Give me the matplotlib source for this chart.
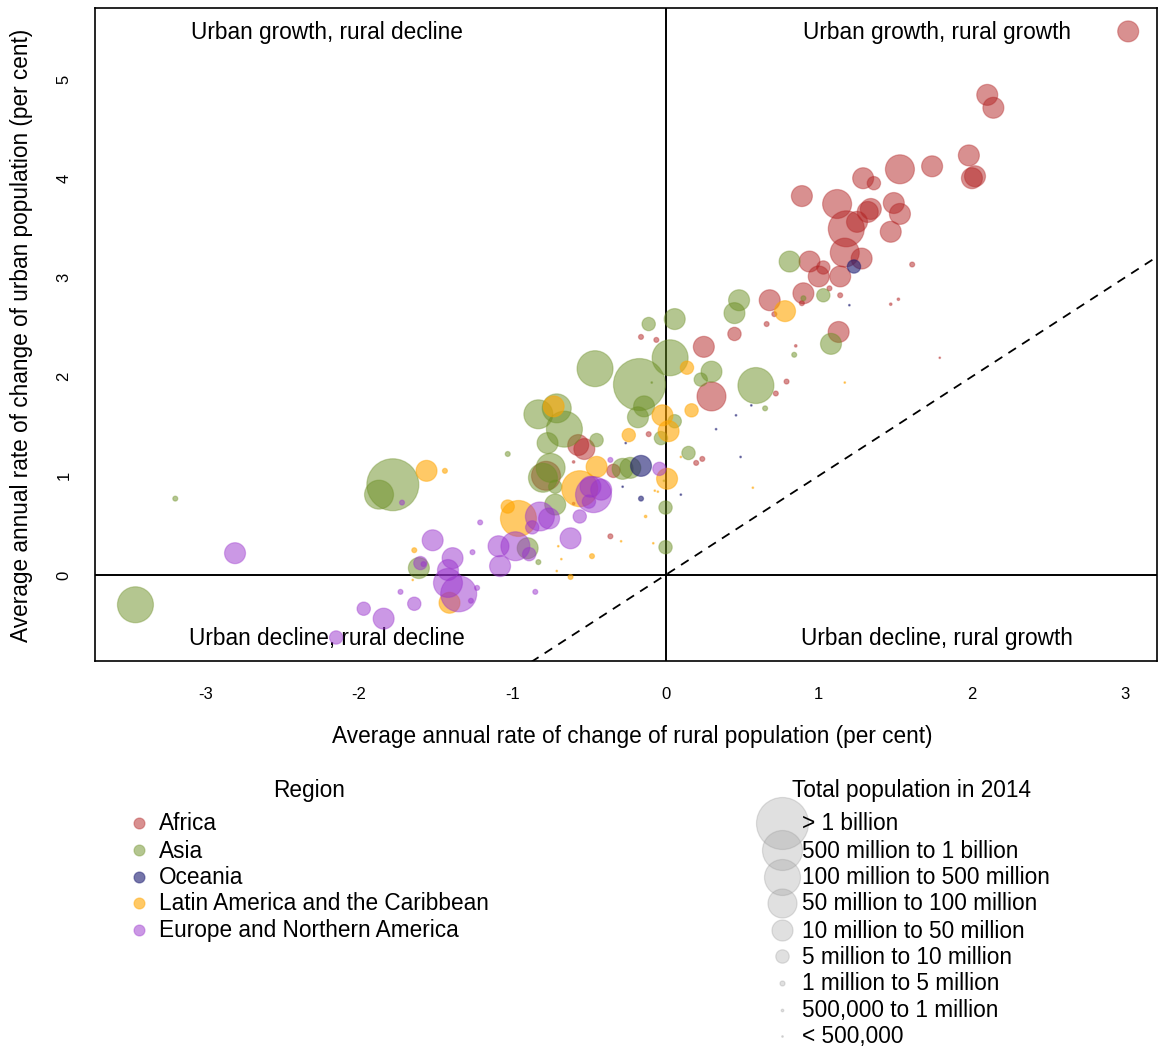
import matplotlib.pyplot as plt
import numpy as np

plt.rcParams["font.family"] = ["Liberation Sans", "DejaVu Sans"]
plt.rcParams["axes.unicode_minus"] = False

W, H, DPI = 1158, 1048, 100

REGIONS = ["Africa", "Asia", "Oceania", "Latin America and the Caribbean",
           "Europe and Northern America"]
REGION_COLORS = ["#B22222", "#6B8E23", "#191970", "#FFA500", "#9932CC"]
REGION_ALPHA = [0.5, 0.5, 0.6, 0.6, 0.5]

POP_LABELS = ["> 1 billion", "500 million to 1 billion", "100 million to 500 million",
              "50 million to 100 million", "10 million to 50 million",
              "5 million to 10 million", "1 million to 5 million",
              "500,000 to 1 million", "< 500,000"]
# marker radius (px) for each population class
POP_RADIUS = [26, 20, 18, 14.5, 10.5, 6.7, 2.5, 1.3, 0.8]

# rural change, urban change (per cent per year), population class index
AF_RURAL = [2.10, 2.14, 1.98, 2.00, 2.02, 1.74, 1.53, 1.29, 1.36, 0.89, 1.12, 1.18, 1.25,
            1.32, 1.34, 1.49, 1.53, 1.47, 1.17, 1.28, 0.94, 1.03, 1.00, 1.14, 0.90, 1.07,
            1.14, 1.61, 1.47, 1.52, 1.13, 0.85, 1.79, 0.68, 0.66, 0.71, 0.89, 0.45, 0.25,
            3.02, 0.79, 0.72, -0.16, -0.06, 0.30, -0.11, 0.24, 0.20, -0.57, -0.53, -0.60,
            -0.78, -0.34, -0.36, -0.60]
AF_URBAN = [4.84, 4.71, 4.23, 4.00, 4.02, 4.12, 4.09, 4.00, 3.95, 3.82, 3.74, 3.49, 3.56,
            3.66, 3.69, 3.75, 3.64, 3.46, 3.25, 3.19, 3.16, 3.10, 3.01, 3.01, 2.84, 2.89,
            2.82, 3.13, 2.73, 2.78, 2.45, 2.31, 2.19, 2.77, 2.53, 2.63, 2.74, 2.43, 2.30,
            5.48, 1.95, 1.83, 2.40, 2.37, 1.80, 1.42, 1.17, 1.13, 1.31, 1.27, 1.14,
            1.00, 1.05, 0.39, 0.72]
AF_POP = [4, 4, 4, 4, 4, 4, 3, 4, 5, 4, 3, 2, 4,
          4, 4, 4, 4, 4, 3, 4, 4, 5, 4, 4, 4, 6,
          6, 6, 7, 7, 4, 7, 8, 4, 6, 6, 6, 5, 4,
          4, 6, 6, 6, 6, 3, 6, 6, 6, 4, 4, 7,
          3, 5, 6, 7]

AS_RURAL = [-0.17, -1.78, -1.87, -0.46, 0.03, 0.59, -3.46, 0.06, -0.11, 0.45, 0.48, 0.81,
            1.03, 0.90, 1.08, 0.84, 0.65, 0.30, 0.23, -0.14, -0.18, 0.06, -0.03, -0.45,
            0.15, -0.83, -0.71, -0.66, -0.77, -1.03, -0.75, -0.80, -0.72, -0.28, -0.23,
            0.00, 0.00, -0.72, -3.20, -1.61, -0.90, -0.83, -0.09, -0.01]
AS_URBAN = [1.92, 0.91, 0.81, 2.08, 2.19, 1.91, -0.30, 2.58, 2.53, 2.64, 2.77, 3.16,
            2.82, 2.79, 2.33, 2.22, 1.68, 2.05, 1.97, 1.70, 1.59, 1.55, 1.38, 1.36,
            1.23, 1.62, 1.68, 1.47, 1.33, 1.22, 1.08, 0.98, 0.89, 1.07, 1.08,
            0.68, 0.28, 0.71, 0.77, 0.07, 0.27, 0.13, 1.94, 0.95]
AS_POP = [0, 0, 3, 2, 2, 2, 2, 4, 5, 4, 4, 4,
          5, 6, 4, 6, 6, 4, 5, 4, 4, 5, 5, 5,
          5, 3, 3, 2, 4, 6, 3, 3, 5, 4, 4,
          5, 5, 4, 6, 4, 4, 6, 8, 8]

OC_RURAL = [-0.16, 1.23, -0.16, 1.20, 0.56, 0.46, 0.33, 0.49, -0.26, -0.28, 0.10]
OC_URBAN = [1.10, 3.11, 0.77, 2.72, 1.71, 1.61, 1.47, 1.19, 1.33, 0.89, 0.81]
OC_POP = [4, 5, 6, 8, 8, 8, 8, 8, 8, 8, 8]

LA_RURAL = [-0.96, -0.56, 0.78, -0.02, 0.02, 0.14, 0.17, -0.24, -0.73, -0.45, 0.01,
            -1.03, -1.56, -1.44, -1.64, -1.41, -1.65, -0.62, -0.48, -0.68, -0.71, -0.70,
            -0.13, -0.29, -0.08, -0.07, -0.05, 0.10, 0.57, 1.17]
LA_URBAN = [0.57, 0.87, 2.66, 1.61, 1.45, 2.09, 1.66, 1.41, 1.70, 1.09, 0.97,
            0.69, 1.05, 1.05, 0.25, -0.28, -0.05, -0.02, 0.19, 0.16, 0.04, 0.29,
            0.59, 0.34, 0.32, 0.85, 0.84, 1.19, 0.88, 1.94]
LA_POP = [2, 2, 4, 4, 4, 5, 5, 5, 4, 4, 4,
          5, 4, 6, 6, 4, 8, 6, 6, 8, 8, 8,
          7, 8, 8, 8, 8, 8, 8, 8]

EU_RURAL = [-0.47, -1.35, -2.81, -1.52, -1.60, -1.58, -1.39, -1.42, -1.42, -1.21, -1.26,
            -1.23, -1.27, -1.73, -1.64, -1.97, -1.84, -2.15, -1.09, -0.98, -1.08, -0.89,
            -0.85, -0.82, -0.76, -0.87, -0.56, -0.62, -0.49, -0.50, -0.42, -0.36, -0.04,
            -1.72]
EU_URBAN = [0.81, -0.19, 0.22, 0.35, 0.12, 0.11, 0.17, 0.05, -0.08, 0.53, 0.23,
            -0.13, -0.26, -0.17, -0.29, -0.34, -0.44, -0.63, 0.29, 0.29, 0.09, 0.21,
            -0.17, 0.59, 0.57, 0.48, 0.59, 0.37, 0.89, 0.74, 0.86, 1.16, 1.07,
            0.73]
EU_POP = [2, 2, 4, 4, 5, 6, 4, 4, 3, 6, 6,
          6, 6, 6, 5, 5, 4, 5, 4, 3, 4, 5,
          6, 3, 4, 5, 5, 4, 4, 5, 4, 6, 5,
          6]

SERIES = [
    (AF_RURAL, AF_URBAN, AF_POP),
    (AS_RURAL, AS_URBAN, AS_POP),
    (OC_RURAL, OC_URBAN, OC_POP),
    (LA_RURAL, LA_URBAN, LA_POP),
    (EU_RURAL, EU_URBAN, EU_POP),
]

PX_TO_PT = 72.0 / DPI


def marker_size(radius_px):
    d = 2 * radius_px * PX_TO_PT
    return d * d


def rgba(color, alpha):
    import matplotlib.colors as mcolors
    r, g, b = mcolors.to_rgb(color)
    return (r, g, b, alpha)


fig = plt.figure(figsize=(W / DPI, H / DPI), dpi=DPI)

# main plot
ax = fig.add_axes([95 / W, 1 - 661 / H, (1157 - 95) / W, (661 - 8) / H])
ax.set_xlim(-3.724, 3.208)
ax.set_ylim(-0.867, 5.716)

for i, (rur, urb, pop) in enumerate(SERIES):
    sizes = [marker_size(POP_RADIUS[p]) for p in pop]
    ax.scatter(rur, urb, s=sizes,
               facecolor=rgba(REGION_COLORS[i], REGION_ALPHA[i]),
               edgecolor=rgba(REGION_COLORS[i], REGION_ALPHA[i] * 0.7),
               linewidths=0.9, zorder=3)

ax.axhline(0, color="black", lw=1.4, zorder=2)
ax.axvline(0, color="black", lw=1.4, zorder=2)
lim = np.array([-5, 5])
ax.plot(lim, lim, color="black", lw=1.3, ls=(0, (5, 4)), zorder=2)

ax.set_xticks([-3, -2, -1, 0, 1, 2, 3])
ax.set_yticks([0, 1, 2, 3, 4, 5])
ax.tick_params(axis="x", length=0, pad=19, labelsize=12)
ax.tick_params(axis="y", length=0, pad=17, labelsize=12, labelrotation=90)
for lab in ax.get_yticklabels():
    lab.set_va("center")
for sp in ax.spines.values():
    sp.set_linewidth(1.2)
    sp.set_color("black")

qfont = 16.3
ax.text(0.2185, 0.963, "Urban growth, rural decline", transform=ax.transAxes,
        ha="center", va="center", fontsize=qfont)
ax.text(0.793, 0.963, "Urban growth, rural growth", transform=ax.transAxes,
        ha="center", va="center", fontsize=qfont)
ax.text(0.2185, 0.034, "Urban decline, rural decline", transform=ax.transAxes,
        ha="center", va="center", fontsize=qfont, zorder=2)
ax.text(0.793, 0.034, "Urban decline, rural growth", transform=ax.transAxes,
        ha="center", va="center", fontsize=qfont)

fig.text(632 / W, 1 - 737 / H,
         "Average annual rate of change of rural population (per cent)",
         ha="center", va="center", fontsize=qfont)
fig.text(22 / W, 1 - 335 / H,
         "Average annual rate of change of urban population (per cent)",
         ha="center", va="center", rotation=90, fontsize=qfont)

# legends drawn in pixel coordinates
lg = fig.add_axes([0, 0, 1, 1], facecolor="none")
lg.set_xlim(0, W)
lg.set_ylim(H, 0)
lg.axis("off")

lg.text(309, 790, "Region", ha="center", va="center", fontsize=qfont)
reg_y = [823, 850, 877, 903, 930]
for i, name in enumerate(REGIONS):
    lg.scatter([139], [reg_y[i]], s=marker_size(5.5),
               facecolor=rgba(REGION_COLORS[i], REGION_ALPHA[i]),
               edgecolor=rgba(REGION_COLORS[i], REGION_ALPHA[i] * 0.7), linewidths=0.9)
    lg.text(159, reg_y[i] + 1, name, ha="left", va="center", fontsize=qfont)

lg.text(911, 790, "Total population in 2014", ha="center", va="center", fontsize=qfont)
pop_y = [823, 850, 877, 903, 930, 956, 983, 1010, 1036]
for i, name in enumerate(POP_LABELS):
    lg.scatter([782], [pop_y[i]], s=marker_size(POP_RADIUS[i]),
               facecolor=(0.6, 0.6, 0.6, 0.3), edgecolor=(0.6, 0.6, 0.6, 0.3),
               linewidths=0.9)
    lg.text(802, pop_y[i] + 1, name, ha="left", va="center", fontsize=qfont)

fig.savefig("out.png", dpi=DPI)
